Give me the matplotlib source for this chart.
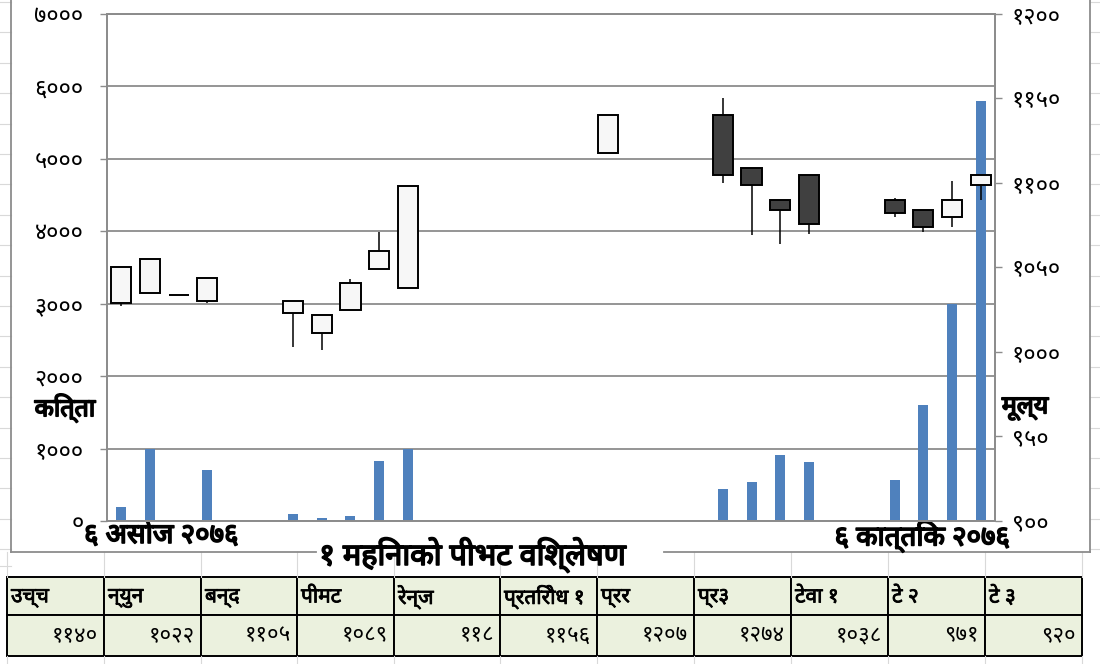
import numpy as np
import matplotlib
matplotlib.use('Agg')
import matplotlib.pyplot as plt
import matplotlib.font_manager as fm
import matplotlib.patheffects as pe
from matplotlib.patches import Rectangle

# ---- data ----
days   = [0, 1, 2, 3, 6, 7, 8, 9, 10, 17, 21, 22, 23, 24, 27, 28, 29, 30]
opens  = [1029, 1035, 1034, 1030, 1023, 1011, 1025, 1049, 1038, 1118, 1140, 1109, 1090, 1105, 1090, 1084, 1080, 1099]
highs  = [1050, 1055, 1034, 1044, 1030, 1022, 1043, 1071, 1098, 1140, 1150, 1109, 1090, 1105, 1091, 1084, 1101, 1105]
lows   = [1027, 1035, 1034, 1029, 1003, 1001, 1025, 1049, 1038, 1118, 1100, 1069, 1064, 1070, 1080, 1071, 1074, 1090]
closes = [1050, 1055, 1034, 1044, 1030, 1022, 1041, 1060, 1098, 1140, 1105, 1099, 1084, 1076, 1082, 1074, 1090, 1105]
volume = [200, 990, 0, 700, 100, 35, 70, 830, 1000, 0, 440, 540, 915, 810, 560, 1600, 3000, 5800]

left_ticks   = [0, 1000, 2000, 3000, 4000, 5000, 6000, 7000]
left_labels  = ['०', '१०००', '२०००', '३०००', '४०००', '५०००', '६०००', '७०००']
right_ticks  = [900, 950, 1000, 1050, 1100, 1150, 1200]
right_labels = ['९००', '९५०', '१०००', '१०५०', '११००', '११५०', '१२००']

start_label = '६ असोज २०७६'
end_label = '६ कात्तिक २०७६'
title = '१ महिनाको पीभट विश्लेषण'

table_heads = ['उच्च', 'न्युन', 'बन्द', 'पीमट', 'रेन्ज', 'प्रतिरोध १', 'प्रर', 'प्र३', 'टेवा १', 'टे २', 'टे ३']
table_vals  = ['११४०', '१०२२', '११०५', '१०८९', '११८', '११५६', '१२०७', '१२७४', '१०३८', '९७१', '९२०']
col_edges = [7, 104, 201, 297, 394, 500, 597, 694, 791, 888, 985, 1082]


# look for a proportional font that has devanagari glyphs
def find_deva_family():
    try:
        from fontTools.ttLib import TTFont
    except Exception:
        return None
    found = {}
    for path in fm.findSystemFonts():
        try:
            f = TTFont(path, fontNumber=0, lazy=True)
            cmap = f.getBestCmap()
            if cmap and 0x0915 in cmap and 0x0966 in cmap:
                name = fm.FontProperties(fname=path).get_name()
                found.setdefault(name, []).append(path)
        except Exception:
            pass
    if not found:
        return None
    prefer = ['Noto Sans Devanagari', 'Noto Serif Devanagari', 'Kalimati', 'Mangal',
              'Lohit Devanagari', 'Lohit Hindi', 'Gargi', 'FreeSans', 'FreeSerif']
    names = [n for n in prefer if n in found]
    names += [n for n in found if 'mono' not in n.lower() and n not in names]
    names += [n for n in found if n not in names]
    best = names[0]
    for p in found[best]:
        fm.fontManager.addfont(p)
    return best

deva = find_deva_family()
if deva:
    plt.rcParams['font.family'] = [deva, 'DejaVu Sans']
else:
    plt.rcParams['font.family'] = ['DejaVu Sans']

grey = '#8C8C8C'
cellgrey = '#D9D9D9'
heavy = [pe.withStroke(linewidth=1.2, foreground='black')]   # fake bold

fig = plt.figure(figsize=(11, 6.64), dpi=100)

# background layer in pixel coords (excel sheet, frame, table)
bg = fig.add_axes([0, 0, 1, 1], zorder=0)
bg.set_xlim(0, 1100)
bg.set_ylim(664, 0)
bg.axis('off')

# faint worksheet cell lines
for y in np.arange(2, 560, 30.4):
    bg.plot([0, 11], [y, y], color=cellgrey, lw=0.8)
    bg.plot([1090, 1100], [y, y], color=cellgrey, lw=0.8)
for x in col_edges:
    bg.plot([x, x], [552, 577], color=cellgrey, lw=0.8)
    bg.plot([x, x], [656, 664], color=cellgrey, lw=0.8)
bg.plot([0, 11], [566, 566], color=cellgrey, lw=0.8)

# chart frame
bg.plot([11, 11], [0, 552], color=grey, lw=1.3)
bg.plot([1090, 1090], [0, 552], color=grey, lw=1.3)
bg.plot([11, 316], [552, 552], color=grey, lw=1.3)
bg.plot([664, 1090], [552, 552], color=grey, lw=1.3)

# table
for i in range(len(table_heads)):
    x0, x1 = col_edges[i], col_edges[i + 1]
    bg.add_patch(Rectangle((x0, 577), x1 - x0, 38, facecolor='#EBF1DE', edgecolor='black', lw=1.4))
    bg.add_patch(Rectangle((x0, 615), x1 - x0, 41, facecolor='#EBF1DE', edgecolor='black', lw=1.4))
    bg.text(x0 + 4, 597, table_heads[i], ha='left', va='center', fontsize=15,
            path_effects=[pe.withStroke(linewidth=0.6, foreground='black')])
    bg.text(x1 - 6, 636, table_vals[i], ha='right', va='center', fontsize=16)

# labels around the plot
bg.text(84, 536, start_label, ha='left', va='center', fontsize=20, path_effects=heavy)
bg.text(1010, 537, end_label, ha='right', va='center', fontsize=20, path_effects=heavy)
bg.text(65, 408, 'कित्ता', ha='center', va='center', fontsize=18, path_effects=heavy)
bg.text(1025, 408, 'मूल्य', ha='center', va='center', fontsize=18, path_effects=heavy)
bg.text(473, 555, title, ha='center', va='center', fontsize=22, path_effects=heavy)

# ---- main plot: volume bars (left) ----
ax = fig.add_axes([107 / 1100, (664 - 521) / 664, 888 / 1100, 507 / 664], zorder=1)
ax.bar(days, volume, width=0.35, color='#4F81BD', zorder=2)
ax.set_xlim(-0.5, 30.5)
ax.set_ylim(0, 7000)
ax.set_yticks(left_ticks)
ax.set_yticklabels(left_labels)
ax.set_xticks([])
ax.yaxis.grid(True, color=grey, lw=1.3)
ax.set_axisbelow(True)
for s in ['left', 'right', 'bottom', 'top']:
    ax.spines[s].set_color(grey)
    ax.spines[s].set_linewidth(1.3)
ax.tick_params(axis='y', direction='out', length=5, width=1, color=grey, labelsize=17, pad=12)

# ---- candles (right) ----
ax2 = ax.twinx()
ax2.set_ylim(900, 1200)
ax2.set_yticks(right_ticks)
ax2.set_yticklabels(right_labels)
for s in ['left', 'right', 'bottom', 'top']:
    ax2.spines[s].set_color(grey)
    ax2.spines[s].set_linewidth(1.3)
ax2.tick_params(axis='y', direction='out', length=5, width=1, color=grey, labelsize=17, pad=7)

o = np.array(opens)
c = np.array(closes)
body_col = np.where(c >= o, '#F7F7F7', '#404040')
ax2.vlines(days, lows, highs, color='black', lw=1.1, zorder=2)
ax2.bar(days, c - o, bottom=o, width=0.7, color=body_col, edgecolor='black', lw=1.4, zorder=3)

fig.savefig('out.png', dpi=100)
